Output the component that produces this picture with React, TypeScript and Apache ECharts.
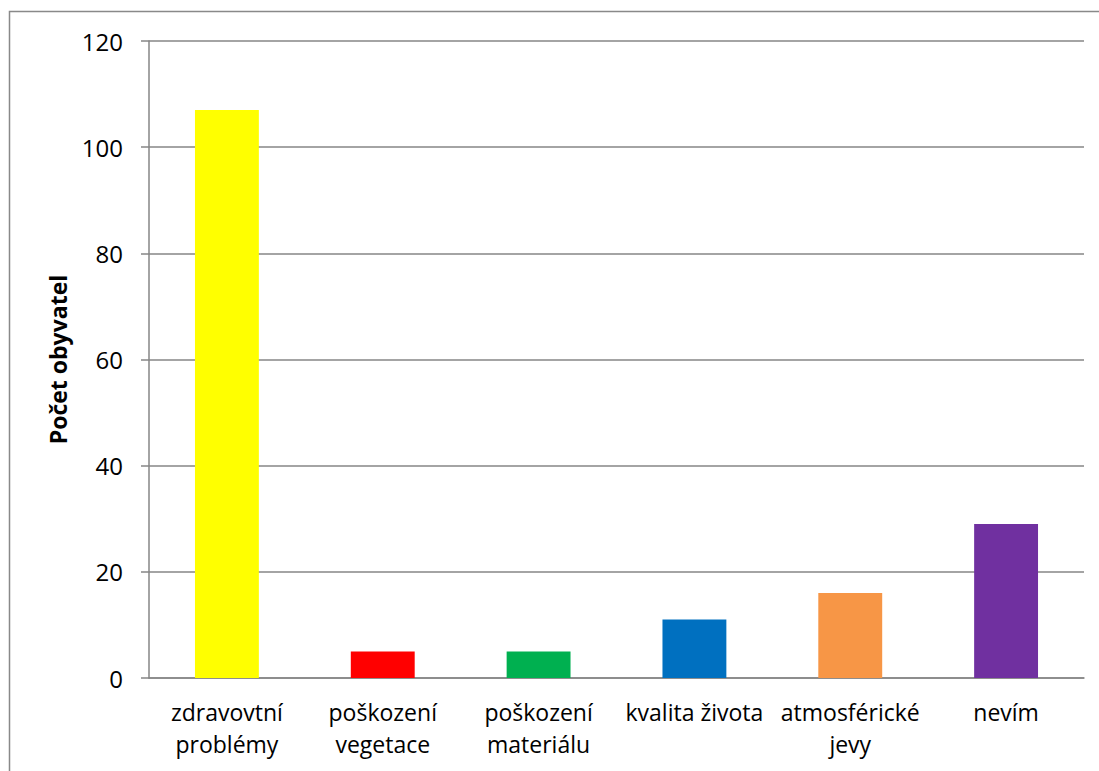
import React, { useEffect, useRef } from "react";
import * as echarts from "echarts";

const categories = [
  "zdravovtní\nproblémy",
  "poškození\nvegetace",
  "poškození\nmateriálu",
  "kvalita života",
  "atmosférické\njevy",
  "nevím",
];
const values = [107, 5, 5, 11, 16, 29];
const barColors = ["#FFFF00", "#FF0000", "#00B050", "#0070C0", "#F79646", "#7030A0"];
const yTicks = { min: 0, max: 120, interval: 20 };
const yTitle = "Počet obyvatel";

const FONT = "'Open Sans', 'Noto Sans', sans-serif";

export default function App() {
  const ref = useRef<HTMLDivElement>(null);
  useEffect(() => {
    document.body.style.margin = "0";
    const chart = echarts.init(ref.current!, null, { renderer: "svg" });
    chart.setOption({
      animation: false,
      backgroundColor: "#ffffff",
      grid: { left: 149, right: 15, top: 41, bottom: 93, containLabel: false },
      graphic: [
        {
          type: "rect",
          shape: { x: 9.5, y: 11.5, width: 1200, height: 1000 },
          style: { fill: "none", stroke: "#898989", lineWidth: 1.5 },
          silent: true,
        },
      ],
      xAxis: {
        type: "category",
        data: categories,
        axisLine: { show: true, lineStyle: { color: "#868686", width: 1.5 } },
        axisTick: { show: false },
        axisLabel: {
          color: "#000",
          fontFamily: FONT,
          fontSize: 23,
          lineHeight: 32,
          margin: 18,
          interval: 0,
        },
      },
      yAxis: {
        type: "value",
        min: yTicks.min,
        max: yTicks.max,
        interval: yTicks.interval,
        name: yTitle,
        nameLocation: "middle",
        nameGap: 80,
        nameRotate: 90,
        nameTextStyle: { color: "#000", fontFamily: FONT, fontSize: 23, fontWeight: "bold" },
        axisLine: { show: true, lineStyle: { color: "#868686", width: 1.5 } },
        axisTick: { show: true, length: 8, lineStyle: { color: "#868686", width: 1.5 } },
        axisLabel: { color: "#000", fontFamily: FONT, fontSize: 24, margin: 26 },
        splitLine: { show: true, lineStyle: { color: "#868686", width: 1.5 } },
      },
      series: [
        {
          type: "bar",
          data: values.map((v, i) => ({ value: v, itemStyle: { color: barColors[i] } })),
          barCategoryGap: "59%",
        },
      ],
    });
    return () => chart.dispose();
  }, []);
  return <div ref={ref} style={{ width: 1099, height: 771 }} />;
}
